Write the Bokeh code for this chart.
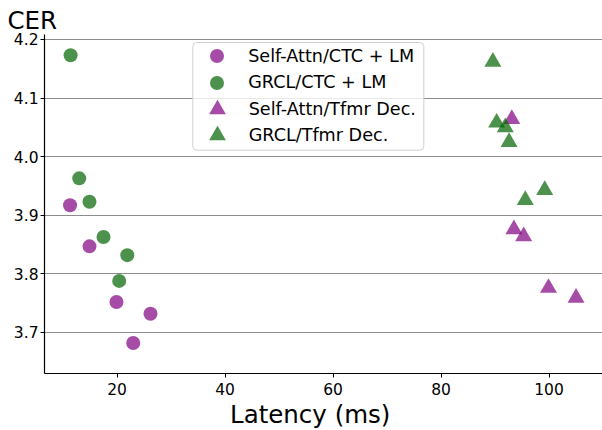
from bokeh.plotting import figure
from bokeh.models import (Range1d, Legend, LegendItem, Title, FixedTicker, BoxAnnotation,
                          PrintfTickFormatter)
from bokeh.embed import file_html
from bokeh.resources import INLINE

# ---- data ----
sa_ctc_x = [11.3, 14.9, 19.9, 26.2, 23.0]
sa_ctc_y = [3.917, 3.847, 3.752, 3.732, 3.682]

grcl_ctc_x = [11.4, 13.0, 14.9, 17.5, 21.9, 20.4]
grcl_ctc_y = [4.173, 3.963, 3.923, 3.863, 3.832, 3.788]

sa_tf_x = [93.1, 93.5, 95.3, 99.9, 105.0]
sa_tf_y = [4.064, 3.876, 3.864, 3.776, 3.759]

grcl_tf_x = [89.6, 90.3, 91.9, 92.6, 99.2, 95.6]
grcl_tf_y = [4.162, 4.058, 4.050, 4.025, 3.943, 3.926]

x_ticks = [20, 40, 60, 80, 100]
y_ticks = [3.7, 3.8, 3.9, 4.0, 4.1, 4.2]

series_labels = ["Self-Attn/CTC + LM", "GRCL/CTC + LM",
                 "Self-Attn/Tfmr Dec.", "GRCL/Tfmr Dec."]

PURPLE = "purple"
GREEN = "darkgreen"
FONT = "DejaVu Sans"

p = figure(width=602, height=430, output_backend="svg", toolbar_location=None,
           x_range=Range1d(6.57, 109.9), y_range=Range1d(3.630, 4.2085),
           min_border_left=44, min_border_right=0, min_border_top=34, min_border_bottom=57)
p.outline_line_color = None
p.background_fill_color = "white"
p.border_fill_color = "white"

r1 = p.scatter(sa_ctc_x, sa_ctc_y, marker="circle", size=14, fill_color=PURPLE,
               fill_alpha=0.7, line_color=None)
r2 = p.scatter(grcl_ctc_x, grcl_ctc_y, marker="circle", size=14, fill_color=GREEN,
               fill_alpha=0.7, line_color=None)
r3 = p.scatter(sa_tf_x, sa_tf_y, marker="triangle", size=17, fill_color=PURPLE,
               fill_alpha=0.7, line_color=None)
r4 = p.scatter(grcl_tf_x, grcl_tf_y, marker="triangle", size=17, fill_color=GREEN,
               fill_alpha=0.7, line_color=None)

# grid
p.xgrid.grid_line_color = None
p.ygrid.grid_line_color = "#8c8c8c"
p.ygrid.grid_line_width = 1.1
p.xaxis.ticker = FixedTicker(ticks=x_ticks)
p.yaxis.ticker = FixedTicker(ticks=y_ticks)
p.yaxis.formatter = PrintfTickFormatter(format="%.1f")

for ax in (p.xaxis, p.yaxis):
    ax.axis_line_color = "black"
    ax.axis_line_width = 1.2
    ax.major_tick_line_color = "black"
    ax.major_tick_line_width = 1.0
    ax.major_tick_out = 4
    ax.major_tick_in = 0
    ax.minor_tick_line_color = None
    ax.major_label_text_font = FONT
    ax.major_label_text_font_size = "15.5px"
    ax.major_label_text_color = "black"

p.xaxis.major_label_standoff = 5
p.yaxis.major_label_standoff = 2

# "CER" at the top-left
p.title.text = "CER"
p.title.align = "left"
p.title.offset = -37
p.title.standoff = 0
p.title.text_font = FONT
p.title.text_font_size = "24.5px"
p.title.text_font_style = "normal"
p.title.text_color = "black"

# x axis title
xt = Title(text="Latency (ms)", align="left", offset=185.5, standoff=1,
           text_font=FONT, text_font_size="24.5px", text_font_style="normal",
           text_color="black")
p.add_layout(xt, "below")

# legend background box (screen units, relative to the frame)
box = BoxAnnotation(left=148.3, right=379.3, bottom=223.3, top=331,
                    left_units="screen", right_units="screen",
                    bottom_units="screen", top_units="screen",
                    fill_color="white", fill_alpha=0.8,
                    line_color="#d0d0d0", line_width=1, line_alpha=1.0,
                    border_radius=4)
p.add_layout(box)

# one legend per row so that legend glyphs keep their plotted size
rows = [(r1, 35, 155.2, 299.8, 14), (r2, 35, 155.2, 273.3, 14),
        (r3, 42, 151.7, 243.5, 11), (r4, 42, 151.7, 216.8, 11)]
for (rend, gh, lx, ly, stand), lab in zip(rows, series_labels):
    lg = Legend(items=[LegendItem(label=lab, renderers=[rend])], location=(lx, ly))
    lg.label_text_font = FONT
    lg.label_text_font_size = "17.6px"
    lg.label_text_color = "black"
    lg.padding = 0
    lg.margin = 0
    lg.spacing = 0
    lg.glyph_width = gh
    lg.glyph_height = gh
    lg.label_height = 20
    lg.label_standoff = stand
    lg.border_line_color = None
    lg.background_fill_alpha = 0
    p.add_layout(lg, "center")

open("out.html", "w").write(file_html(p, INLINE))
